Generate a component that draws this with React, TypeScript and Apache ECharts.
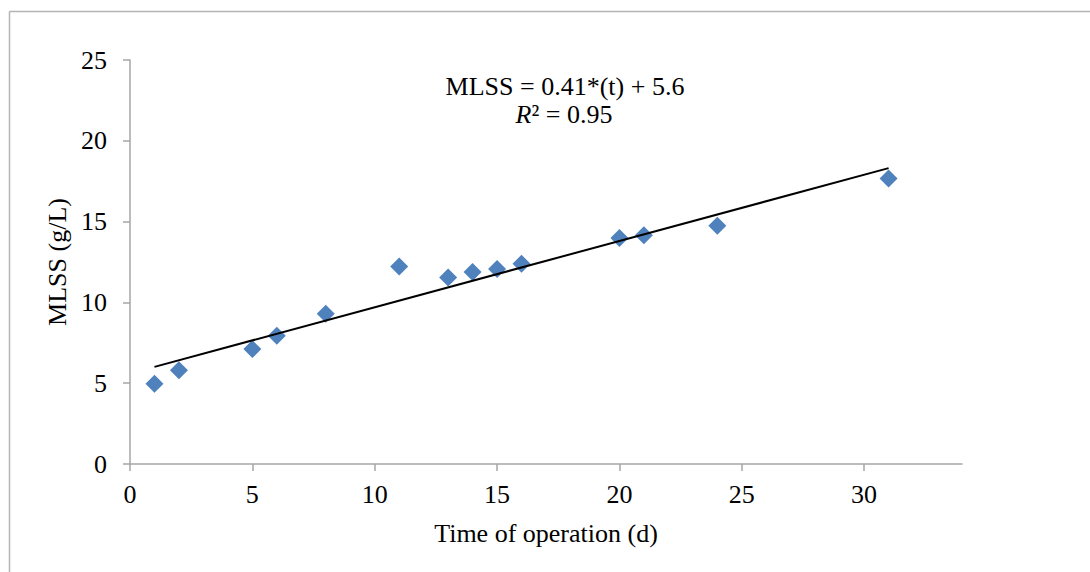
import React, { useEffect, useRef } from "react";
import * as echarts from "echarts";

// Days of operation and measured MLSS (g/L)
const days = [1, 2, 5, 6, 8, 11, 13, 14, 15, 16, 20, 21, 24, 31];
const mlss = [4.96, 5.8, 7.11, 7.93, 9.29, 12.22, 11.54, 11.88, 12.06, 12.39, 13.98, 14.15, 14.75, 17.66];

// Linear fit shown on the chart
const slope = 0.41;
const intercept = 5.6;
const rSquared = "0.95";

const xTicks = [0, 5, 10, 15, 20, 25, 30];
const yTicks = [0, 5, 10, 15, 20, 25];

const FONT = "Liberation Serif";
const AXIS_GRAY = "#A6A6A6";

export default function App() {
  const ref = useRef<HTMLDivElement>(null);

  useEffect(() => {
    if (!ref.current) return;
    const chart = echarts.init(ref.current, undefined, { renderer: "svg" });

    const xStart = days[0];
    const xEnd = days[days.length - 1];
    const trend = [
      [xStart, slope * xStart + intercept],
      [xEnd, slope * xEnd + intercept],
    ];

    const labelStyle = {
      fontFamily: FONT,
      fontSize: 26,
      color: "#000",
    };

    chart.setOption({
      animation: false,
      backgroundColor: "#ffffff",
      textStyle: { fontFamily: FONT },
      grid: { left: 130, right: 128, top: 60, bottom: 108, containLabel: false },
      xAxis: {
        type: "value",
        min: 0,
        max: 34,
        interval: 5,
        name: "Time of operation (d)",
        nameLocation: "middle",
        nameGap: 56,
        nameTextStyle: { ...labelStyle },
        axisLine: { show: true, lineStyle: { color: AXIS_GRAY, width: 1.5 } },
        axisTick: { show: true, length: 7, lineStyle: { color: AXIS_GRAY, width: 1.5 }, customValues: xTicks },
        axisLabel: {
          ...labelStyle,
          margin: 17,
          formatter: (v: number) => (xTicks.includes(v) ? String(v) : ""),
        },
        splitLine: { show: false },
      },
      yAxis: {
        type: "value",
        min: 0,
        max: 25,
        interval: 5,
        name: "MLSS (g/L)",
        nameLocation: "middle",
        nameGap: 57,
        nameTextStyle: { ...labelStyle },
        axisLine: { show: true, lineStyle: { color: AXIS_GRAY, width: 1.5 } },
        axisTick: { show: true, length: 7, lineStyle: { color: AXIS_GRAY, width: 1.5 }, customValues: yTicks },
        axisLabel: {
          ...labelStyle,
          margin: 23,
          formatter: (v: number) => (yTicks.includes(v) ? String(v) : ""),
        },
        splitLine: { show: false },
      },
      series: [
        {
          type: "line",
          data: trend,
          symbol: "none",
          lineStyle: { color: "#000", width: 2 },
          z: 3,
        },
        {
          type: "scatter",
          data: days.map((d, i) => [d, mlss[i]]),
          symbol: "diamond",
          symbolSize: 18,
          itemStyle: { color: "#4F81BD", opacity: 1 },
          z: 2,
        },
      ],
      graphic: [
        {
          type: "line",
          shape: { x1: 9.5, y1: 11.5, x2: 1090, y2: 11.5 },
          style: { stroke: "#B4B4B4", lineWidth: 1.5 },
        },
        {
          type: "line",
          shape: { x1: 9.5, y1: 11.5, x2: 9.5, y2: 572 },
          style: { stroke: "#B4B4B4", lineWidth: 1.5 },
        },
        {
          type: "text",
          x: 565,
          y: 86,
          style: {
            text: `MLSS = ${slope}*(t) + ${intercept}`,
            fontFamily: FONT,
            fontSize: 26,
            fill: "#000",
            align: "center",
            verticalAlign: "middle",
          },
        },
        {
          type: "text",
          x: 564,
          y: 114,
          style: {
            text: `{i|R}² = ${rSquared}`,
            fontFamily: FONT,
            fontSize: 26,
            fill: "#000",
            align: "center",
            verticalAlign: "middle",
            rich: {
              i: { fontFamily: FONT, fontSize: 26, fontStyle: "italic", fill: "#000" },
            },
          },
        },
      ],
    });

    return () => chart.dispose();
  }, []);

  return (
    <div
      ref={ref}
      style={{ position: "fixed", left: 0, top: 0, width: 1090, height: 572, background: "#fff" }}
    />
  );
}
